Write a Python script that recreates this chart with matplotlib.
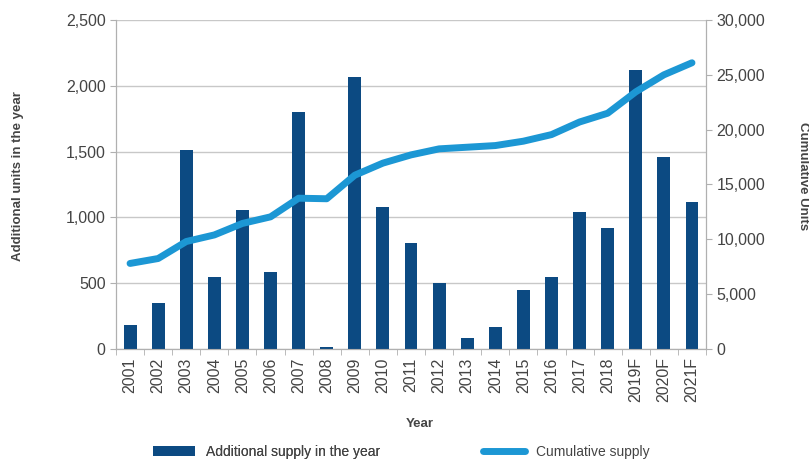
import matplotlib.pyplot as plt
import matplotlib.ticker as ticker
from matplotlib.lines import Line2D
from matplotlib.patches import Patch

plt.rcParams.update({
    'font.family': ['Liberation Sans', 'DejaVu Sans'],
    'text.color': '#444444',
})

YEARS = ['2001', '2002', '2003', '2004', '2005', '2006', '2007', '2008', '2009', '2010',
         '2011', '2012', '2013', '2014', '2015', '2016', '2017', '2018',
         '2019F', '2020F', '2021F']
ADDITIONAL = [182, 352, 1512, 550, 1056, 587, 1803, 18, 2064, 1077,
              808, 499, 86, 169, 448, 549, 1043, 922, 2120, 1457, 1119]
CUMULATIVE = [7800, 8250, 9800, 10400, 11450, 12050, 13750, 13700, 15850, 16950,
              17700, 18250, 18400, 18550, 18950, 19550, 20700, 21500, 23450, 25000, 26100]

BAR_COLOR = '#0c4a82'
LINE_COLOR = '#1c97d4'
GRID_COLOR = '#c8c8c8'
SPINE_COLOR = '#b0b0b0'
TEXT_COLOR = '#444444'
FS_TICK = 11.5
FS_LABEL = 9.5
FS_LEGEND = 10

fig = plt.figure(figsize=(8.09, 4.59), dpi=100)
ax = fig.add_axes([0.1434, 0.2397, 0.7293, 0.7167])
ax2 = ax.twinx()

x = list(range(len(YEARS)))
ax.bar(x, ADDITIONAL, width=0.46, color=BAR_COLOR, zorder=3)
ax2.plot(x, CUMULATIVE, color=LINE_COLOR, lw=5, solid_capstyle='round',
         solid_joinstyle='round', zorder=4)

ax.set_xlim(-0.5, len(YEARS) - 0.5)
ax.set_ylim(0, 2500)
ax2.set_ylim(0, 30000)

ax.set_yticks(range(0, 2501, 500))
ax2.set_yticks(range(0, 30001, 5000))
fmt = ticker.FuncFormatter(lambda v, _: f'{int(v):,}')
ax.yaxis.set_major_formatter(fmt)
ax2.yaxis.set_major_formatter(fmt)

# labels at bar centres, tick marks on category boundaries
ax.set_xticks(x)
ax.set_xticklabels(YEARS, rotation=90)
ax.set_xticks([i - 0.5 for i in x] + [len(x) - 0.5], minor=True)
ax.tick_params(axis='x', which='major', length=0, pad=6)
ax.tick_params(axis='x', which='minor', length=4, color=SPINE_COLOR)

ax.yaxis.grid(True, color=GRID_COLOR, lw=1, zorder=0)
ax.set_axisbelow(True)

for a in (ax, ax2):
    for s in a.spines.values():
        s.set_color(SPINE_COLOR)
    a.spines['top'].set_visible(False)
    a.tick_params(axis='y', colors=SPINE_COLOR, labelcolor=TEXT_COLOR,
                  labelsize=FS_TICK, length=4)
ax.tick_params(axis='x', labelsize=FS_TICK, labelcolor=TEXT_COLOR)

ax.set_xlabel('Year', fontsize=FS_LABEL, fontweight='bold', color=TEXT_COLOR, va='center')
ax.xaxis.set_label_coords(0.515, -0.228)
ax.set_ylabel('Additional units in the year', fontsize=FS_LABEL, fontweight='bold',
              color=TEXT_COLOR, va='center')
ax.yaxis.set_label_coords(-0.166, 0.527)
ax2.set_ylabel('Cumulative Units', fontsize=FS_LABEL, fontweight='bold', color=TEXT_COLOR,
               rotation=270, va='center')
ax2.yaxis.set_label_coords(1.164, 0.527)

leg_kw = dict(loc='center left', frameon=False, fontsize=FS_LEGEND, borderpad=0,
              borderaxespad=0, handlelength=3.0, handleheight=0.75, handletextpad=0.85,
              labelcolor=TEXT_COLOR)
leg1 = fig.legend(handles=[Patch(facecolor=BAR_COLOR, label='Additional supply in the year')],
                  bbox_to_anchor=(153 / 809, 0.0163), **leg_kw)
fig.add_artist(leg1)
fig.legend(handles=[Line2D([0], [0], color=LINE_COLOR, lw=5, solid_capstyle='round',
                           label='Cumulative supply')],
           bbox_to_anchor=(483 / 809, 0.0163), **leg_kw)

fig.savefig('out.png', dpi=100, facecolor='white')
